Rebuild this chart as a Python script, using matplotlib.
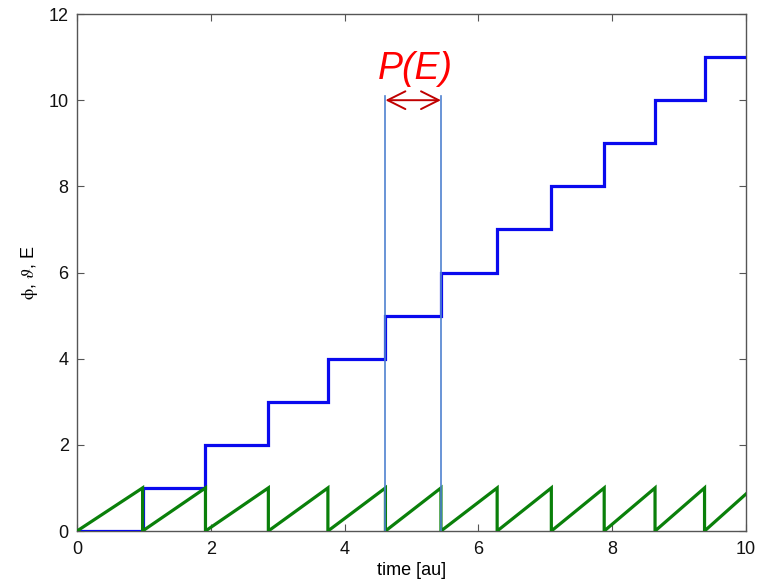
import matplotlib.pyplot as plt

# times at which the energy E steps up by one
jump_times = [0.98, 1.92, 2.86, 3.75, 4.61, 5.44, 6.28, 7.09, 7.88, 8.64, 9.38]
t_end = 10.0
phase_end = 0.86          # green phase value reached at t = 10
marked = (4.61, 5.44)     # the period P(E) marked by the arrow
marker_top = 10.1
arrow_y = 10.0

plt.rcParams['font.family'] = ['Liberation Sans', 'DejaVu Sans']
plt.rcParams['mathtext.fontset'] = 'stix'

fig = plt.figure(figsize=(7.71, 5.87), dpi=100)
ax = fig.add_axes([0.0999, 0.0954, 0.8677, 0.8807])

# blue staircase E(t)
bx, by = [0.0], [0.0]
for k, t in enumerate(jump_times):
    bx += [t, t]
    by += [k, k + 1]
bx.append(t_end)
by.append(len(jump_times))
ax.plot(bx, by, color='#0a0aee', lw=2.3, solid_joinstyle='miter', zorder=3)

# green sawtooth phase
gx, gy = [0.0], [0.0]
for t in jump_times:
    gx += [t, t]
    gy += [1.0, 0.0]
gx.append(t_end)
gy.append(phase_end)
ax.plot(gx, gy, color='#0a800a', lw=2.3, solid_joinstyle='miter', zorder=4)

# markers of one period
for t in marked:
    ax.plot([t, t], [0, marker_top], color='#4f81d0', lw=1.2, zorder=5)
ax.annotate('', xy=(marked[0], arrow_y), xytext=(marked[1], arrow_y),
            arrowprops=dict(arrowstyle='<->', color='#c00000', lw=1.4,
                            mutation_scale=32, shrinkA=0, shrinkB=0), zorder=6)
ax.text((marked[0] + marked[1]) / 2 + 0.03, 10.3, 'P(E)', color='#ff0000',
        fontsize=27, style='italic', ha='center', va='bottom')

ax.set_xlim(0, 10)
ax.set_ylim(0, 12)
ax.set_xticks(range(0, 11, 2))
ax.set_yticks(range(0, 13, 2))
ax.tick_params(direction='in', length=5, width=0.8, top=True, right=True,
               labelsize=13, colors='#555555', labelcolor='#111111')
ax.tick_params(axis='x', pad=7)
ax.tick_params(axis='y', pad=6)
for s in ax.spines.values():
    s.set_color('#555555')
    s.set_linewidth(1.0)
ax.set_xlabel('time [au]', fontsize=13, labelpad=3)
ax.set_ylabel(r'$\mathrm{\phi}$, $\vartheta$, E', fontsize=13, labelpad=6)

fig.savefig('out.png', dpi=100)
